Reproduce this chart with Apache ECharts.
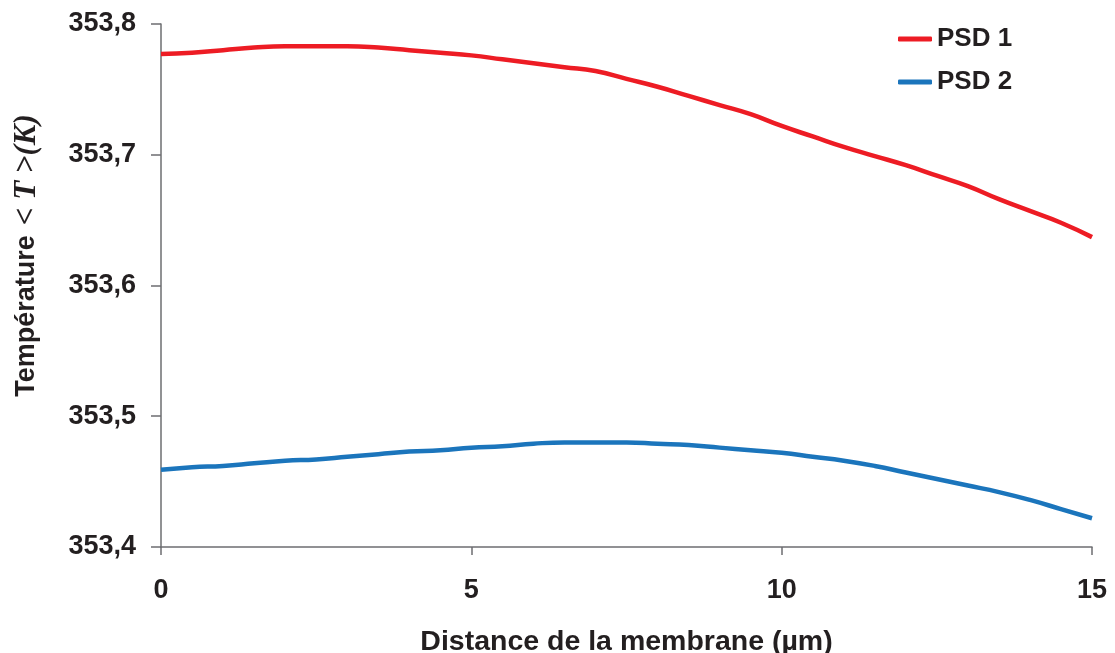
<!DOCTYPE html>
<html><head><meta charset="utf-8">
<script src="https://cdn.jsdelivr.net/npm/echarts@6/dist/echarts.min.js"></script>
<style>html,body{margin:0;padding:0;background:#fff}#c{width:1115px;height:653px}</style>
</head><body><div id="c"></div>
<script>
const distance = [0,0.5,1,1.5,2,2.5,3,3.5,4,4.5,5,5.5,6,6.5,7,7.5,8,8.5,9,9.5,10,10.5,11,11.5,12,12.5,13,13.5,14,14.5,15];
const psd1 = [353.777,353.778,353.780,353.782,353.783,353.783,353.783,353.782,353.780,353.778,353.776,353.773,353.770,353.767,353.764,353.758,353.752,353.745,353.738,353.731,353.722,353.714,353.706,353.699,353.692,353.684,353.676,353.666,353.657,353.648,353.637];
const psd2 = [353.459,353.461,353.462,353.464,353.466,353.467,353.469,353.471,353.473,353.474,353.476,353.477,353.479,353.480,353.480,353.480,353.479,353.478,353.476,353.474,353.472,353.469,353.466,353.462,353.457,353.452,353.447,353.442,353.436,353.429,353.422];
const seriesNames = ['PSD 1','PSD 2'];
const xTitle = 'Distance de la membrane (µm)';

const txt = '#231f20';
const axisCol = '#6d6e71';
const font = 'Liberation Sans, Arial, sans-serif';
const chart = echarts.init(document.getElementById('c'));
chart.setOption({
  animation:false,
  grid:{left:161,right:23,top:24,bottom:106,containLabel:false,outerBoundsMode:'none'},
  legend:{orient:'vertical',left:898,top:26,padding:0,itemWidth:34,itemHeight:5,itemGap:17,icon:'roundRect',
    textStyle:{fontFamily:font,fontWeight:'bold',fontSize:26,color:txt},
    data:seriesNames},
  xAxis:{type:'value',min:0,max:15,interval:5,
    name:xTitle,nameLocation:'middle',nameGap:81,
    nameTextStyle:{fontFamily:font,fontWeight:'bold',fontSize:28.5,color:txt},
    axisLine:{lineStyle:{color:axisCol,width:1.5}},
    axisTick:{show:true,length:8,lineStyle:{color:axisCol,width:1.5}},
    axisLabel:{margin:30,fontFamily:font,fontWeight:'bold',fontSize:27,color:txt},
    splitLine:{show:false}},
  yAxis:{type:'value',min:353.4,max:353.8,interval:0.1,
    name:'{a|Température}   {b|< T >(K)}',nameLocation:'middle',nameGap:119,nameRotate:90,
    nameTextStyle:{padding:[0,0,0,60],rich:{
      a:{fontFamily:font,fontWeight:'bold',fontSize:27,color:txt},
      b:{fontFamily:'Liberation Serif, Times New Roman, serif',fontStyle:'italic',fontWeight:'bold',fontSize:31,color:txt}}},
    axisLine:{show:true,lineStyle:{color:axisCol,width:1.5}},
    axisTick:{show:true,length:10,lineStyle:{color:axisCol,width:1.5}},
    axisLabel:{margin:25,fontFamily:font,fontWeight:'bold',fontSize:27,color:txt,
      formatter:v=>v.toFixed(1).replace('.',',')},
    splitLine:{show:false}},
  series:[
    {name:seriesNames[0],type:'line',symbol:'none',smooth:true,
      lineStyle:{color:'#ed1c24',width:4.5},itemStyle:{color:'#ed1c24'},
      data:distance.map((d,i)=>[d,psd1[i]])},
    {name:seriesNames[1],type:'line',symbol:'none',smooth:true,
      lineStyle:{color:'#1b75bc',width:4.5},itemStyle:{color:'#1b75bc'},
      data:distance.map((d,i)=>[d,psd2[i]])}
  ]
});
</script></body></html>
